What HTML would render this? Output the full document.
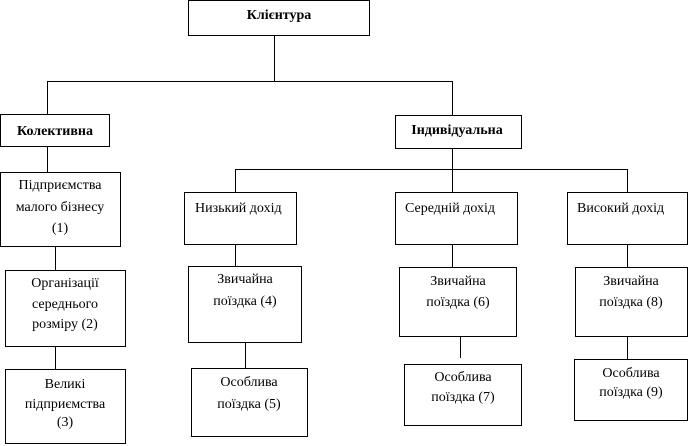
<!DOCTYPE html>
<html><head><meta charset="utf-8"><style>
html,body{margin:0;padding:0;background:#fff;}
svg{display:block;}
text{font-family:"Liberation Serif","DejaVu Serif",serif;font-size:14px;fill:#000;}
.b{font-weight:bold;}
</style></head><body>
<svg width="691" height="446" viewBox="0 0 691 446" xmlns="http://www.w3.org/2000/svg">
<g fill="none" stroke="#000" stroke-width="1">
<rect x="188.5" y="0.5" width="181" height="35"/>
<rect x="0.5" y="114.5" width="109" height="32"/>
<rect x="395.5" y="115.5" width="126" height="33"/>
<rect x="0.5" y="172.5" width="120" height="74"/>
<rect x="5.5" y="270.5" width="120" height="76"/>
<rect x="5.5" y="369.5" width="120" height="74"/>
<rect x="184.5" y="192.5" width="112" height="52"/>
<rect x="188.5" y="266.5" width="113" height="76"/>
<rect x="191.5" y="368.5" width="116" height="68"/>
<rect x="395.5" y="192.5" width="122" height="52"/>
<rect x="399.5" y="267.5" width="117" height="69"/>
<rect x="404.5" y="364.5" width="117" height="61"/>
<rect x="567.5" y="192.5" width="120" height="52"/>
<rect x="575.5" y="267.5" width="112" height="69"/>
<rect x="574.5" y="359.5" width="113" height="61"/>
<path d="M274.5 36V81.5M47.5 81.5H452.5M47.5 81V114M452.5 81V115M452.5 149V169.5M235.5 169.5H627.5M235.5 169V192M627.5 169V192M452.5 169V192
M47.5 147V172M55.5 247V270M55.5 347V369M235.5 245V266M245.5 343V368M452.5 245V267M460.5 337V358M627.5 245V267M627.5 337V359"/>
</g>
<text class="b" x="279" y="19" text-anchor="middle">Клієнтура</text>
<text class="b" x="55" y="135" text-anchor="middle">Колективна</text>
<text class="b" x="457" y="134" text-anchor="middle">Індивідуальна</text>
<g text-anchor="middle">
<text x="60" y="189">Підприємства</text>
<text x="60" y="211">малого бізнесу</text>
<text x="60" y="232">(1)</text>
<text x="65" y="287">Організації</text>
<text x="65" y="308">середнього</text>
<text x="65" y="328">розміру (2)</text>
<text x="65" y="388">Великі</text>
<text x="65" y="408">підприємства</text>
<text x="65" y="426">(3)</text>
<text x="245" y="283">Звичайна</text>
<text x="245" y="305">поїздка (4)</text>
<text x="249" y="386">Особлива</text>
<text x="249" y="408">поїздка (5)</text>
<text x="458" y="285">Звичайна</text>
<text x="458" y="306">поїздка (6)</text>
<text x="463" y="381">Особлива</text>
<text x="463" y="401">поїздка (7)</text>
<text x="631" y="285">Звичайна</text>
<text x="631" y="306">поїздка (8)</text>
<text x="631" y="377">Особлива</text>
<text x="631" y="396">поїздка (9)</text>
</g>
<text x="195" y="212">Низький дохід</text>
<text x="405" y="212">Середній дохід</text>
<text x="577" y="212">Високий дохід</text>
</svg>
</body></html>
